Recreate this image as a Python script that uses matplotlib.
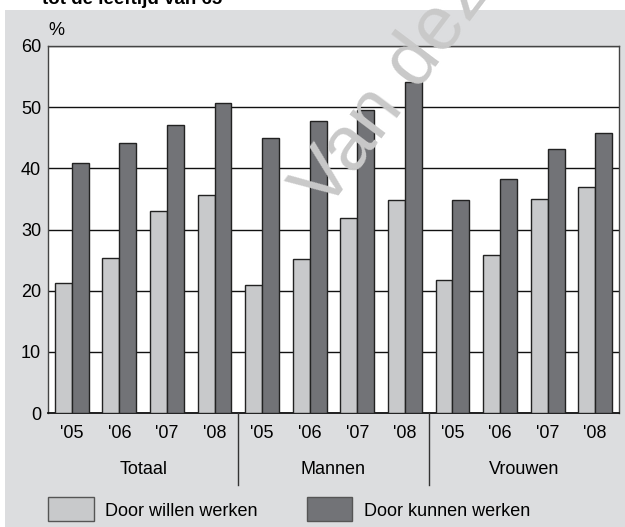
import matplotlib.pyplot as plt
from matplotlib.patches import Rectangle
from matplotlib.lines import Line2D
import numpy as np

plt.rcParams['font.family'] = ['Liberation Sans', 'DejaVu Sans']

years = ["'05", "'06", "'07", "'08"]
groups = ["Totaal", "Mannen", "Vrouwen"]
willen = [21.3, 25.4, 33.1, 35.7,   21.0, 25.2, 31.8, 34.8,   21.7, 25.9, 35.0, 37.0]
kunnen = [40.9, 44.1, 47.1, 50.7,   44.9, 47.8, 49.5, 54.1,   34.8, 38.2, 43.1, 45.8]
series_names = ["Door willen werken", "Door kunnen werken"]

bg = "#dcdddf"
light = "#c8c9cb"
dark = "#727377"
W, H = 625, 527

fig = plt.figure(figsize=(6.25, 5.27), dpi=100, facecolor="white")
# grey panel behind the chart
fig.patches.append(Rectangle((5 / W, 0), 1, 1 - 10 / H, transform=fig.transFigure,
                             facecolor=bg, edgecolor="none", zorder=-1))

fig.text(42 / W, 1 - 3.5 / H, "tot de leeftijd van 65", fontsize=13.5, fontweight="bold",
         ha="left", va="baseline")

ax = fig.add_axes([48 / W, 1 - 413 / H, (619 - 48) / W, (413 - 46) / H])
ax.set_zorder(1)
ax.set_facecolor("white")

x = np.arange(len(willen))
bw = 0.355
ax.bar(x - bw / 2, willen, bw, color=light, edgecolor="#222222", linewidth=1, zorder=3)
ax.bar(x + bw / 2, kunnen, bw, color=dark, edgecolor="#222222", linewidth=1, zorder=3)

ax.set_xlim(-0.5, len(willen) - 0.5)
ax.set_ylim(0, 60)
ax.set_yticks(range(0, 61, 10))
ax.yaxis.grid(True, color="#111111", linewidth=1, zorder=1)
ax.set_axisbelow(True)
ax.tick_params(axis="y", length=0, pad=5, labelsize=13)
ax.set_xticks(x)
ax.set_xticklabels(years * 3)
ax.tick_params(axis="x", length=0, pad=9, labelsize=13)
for s in ["left", "top", "right"]:
    ax.spines[s].set_color("#444444")
    ax.spines[s].set_linewidth(1)
ax.spines["bottom"].set_color("#111111")
ax.spines["bottom"].set_linewidth(1.3)

ax.text(0, 1.02, "%", transform=ax.transAxes, fontsize=13, ha="left", va="bottom")

# group names and separators below the axis
for i, g in enumerate(groups):
    ax.text(4 * i + 1.5, -9.2, g, ha="center", va="center", fontsize=13)
for sep in [3.5, 7.5]:
    xs = ax.transData.transform((sep, 0))[0] / fig.dpi / fig.get_figwidth()
    fig.lines.append(Line2D([xs, xs], [1 - 413 / H, 1 - 485 / H], transform=fig.transFigure,
                            color="#333333", linewidth=1))

# legend
for (x0, x1, tx), name, col in zip([(48, 94, 105), (307, 352, 364)], series_names, [light, dark]):
    fig.patches.append(Rectangle((x0 / W, 1 - 521 / H), (x1 - x0) / W, 24 / H,
                                 transform=fig.transFigure, facecolor=col,
                                 edgecolor="#555555", linewidth=1, zorder=2))
    fig.text(tx / W, 1 - 511 / H, name, fontsize=13, ha="left", va="center")

# watermark
fig.text(326 / W, 1 - 212 / H, "Van deze", fontsize=55, color="#c9c9c9", rotation=53,
         rotation_mode="anchor", ha="left", va="baseline", zorder=10)

fig.savefig("out.png", dpi=100, facecolor="white")
